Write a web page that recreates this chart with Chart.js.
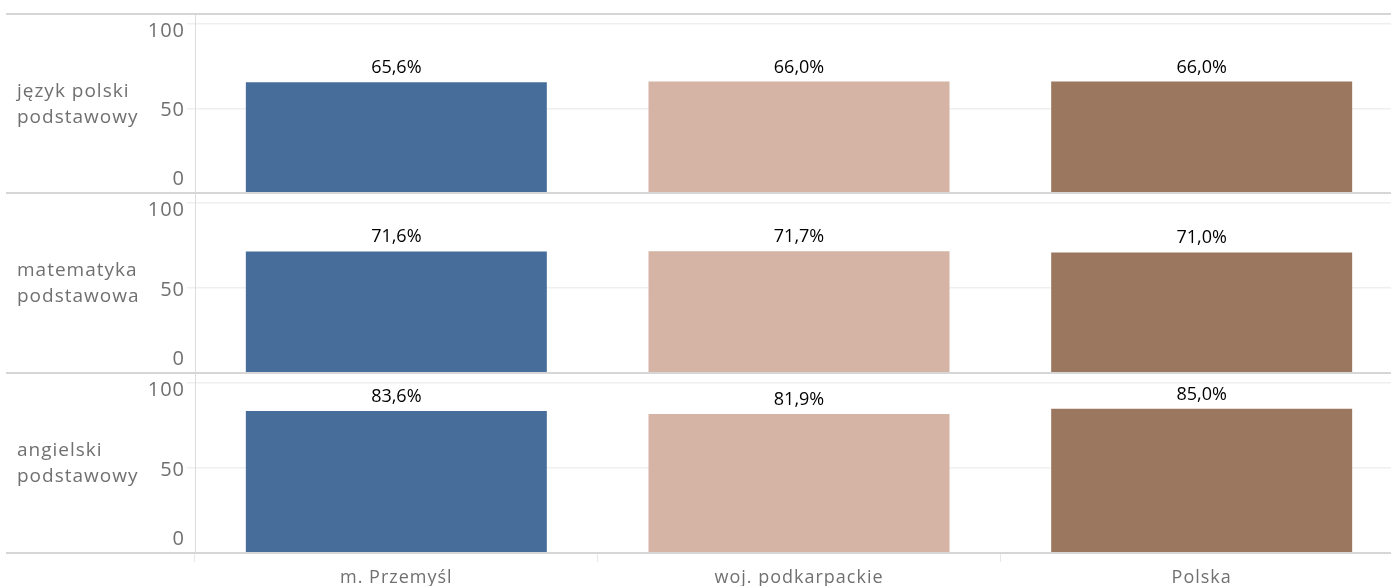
<!DOCTYPE html>
<html><head><meta charset="utf-8">
<script src="https://cdn.jsdelivr.net/npm/chart.js@4"></script>
<style>
html,body{margin:0;padding:0;background:#fff;overflow:hidden;width:1391px;height:586px;}
#wrap{position:relative;width:1403px;height:586px;}
canvas{position:absolute;left:0;}
</style></head><body><div id="wrap"></div>
<script>
// ---- data ----
const categories = ['m. Przemyśl', 'woj. podkarpackie', 'Polska'];
const rowLabels = [['język polski', 'podstawowy'], ['matematyka', 'podstawowa'], ['angielski', 'podstawowy']];
const polskiValues = [65.6, 66.0, 66.0];
const matematykaValues = [71.6, 71.7, 71.0];
const angielskiValues = [83.6, 81.9, 85.0];
const yTickValues = [0, 50, 100];
const seriesValues = [polskiValues, matematykaValues, angielskiValues];

// ---- style ----
const barColors = ['#476e9b', '#d5b3a5', '#9c7760'];
const FONT = '"Open Sans", sans-serif';
const textGray = '#707070';
const panelTops = [14, 193, 373];
const panelBottom = 553;
const fmt = v => v.toFixed(1).replace('.', ',') + '%';

const decor = {
  id: 'decor',
  beforeDraw(chart) { chart.ctx.letterSpacing = '1px'; },
  afterDatasetsDraw(chart, args, opts) {
    const ctx = chart.ctx, ca = chart.chartArea, ys = chart.scales.y;
    ctx.save();
    ctx.strokeStyle = '#d6d6d6'; ctx.lineWidth = 2;
    ctx.beginPath(); ctx.moveTo(6, ca.top); ctx.lineTo(chart.width, ca.top); ctx.stroke();
    if (opts.last) {
      ctx.beginPath(); ctx.moveTo(6, ca.bottom); ctx.lineTo(chart.width, ca.bottom); ctx.stroke();
    }
    ctx.letterSpacing = '1px';
    ctx.font = '20px ' + FONT; ctx.fillStyle = textGray;
    ctx.textAlign = 'right'; ctx.textBaseline = 'middle';
    yTickValues.forEach(v => {
      const off = v === 0 ? -14 : (v === 100 ? 7 : 2);
      ctx.fillText(String(v), 185, ys.getPixelForValue(v) + off);
    });
    ctx.font = '19px ' + FONT;
    ctx.textAlign = 'left';
    const mid = (ca.top + ca.bottom) / 2;
    ctx.fillText(opts.label[0], 17, mid - 12);
    ctx.fillText(opts.label[1], 17, mid + 14);
    ctx.letterSpacing = '0px';
    ctx.fillStyle = '#000'; ctx.font = '18px ' + FONT;
    ctx.textAlign = 'center'; ctx.textBaseline = 'alphabetic';
    const ds = chart.data.datasets[0];
    chart.getDatasetMeta(0).data.forEach((bar, i) => {
      ctx.fillText(fmt(ds.data[i]), bar.x, bar.y - 9);
    });
    ctx.restore();
  }
};

const wrap = document.getElementById('wrap');
seriesValues.forEach((vals, idx) => {
  const last = idx === seriesValues.length - 1;
  const top = panelTops[idx];
  const bottom = last ? panelBottom : panelTops[idx + 1];
  const cv = document.createElement('canvas');
  cv.width = 1403;
  cv.height = (bottom - top) + 2 + (last ? 33 : 0);
  cv.style.top = (top - 2) + 'px';
  cv.style.width = cv.width + 'px';
  cv.style.height = cv.height + 'px';
  wrap.appendChild(cv);
  new Chart(cv, {
    type: 'bar',
    data: {
      labels: categories,
      datasets: [{
        data: vals,
        backgroundColor: barColors,
        categoryPercentage: 0.7475,
        barPercentage: 1,
        borderWidth: 0
      }]
    },
    options: {
      responsive: false,
      animation: false,
      devicePixelRatio: 1,
      layout: { padding: { top: 2, left: 0, right: 0, bottom: 0 } },
      plugins: {
        legend: { display: false },
        tooltip: { enabled: false },
        decor: { last: last, label: rowLabels[idx] }
      },
      scales: {
        x: {
          type: 'category',
          offset: true,
          display: last,
          grid: { display: true, drawOnChartArea: false, tickLength: 9, color: '#e8e8e8', offset: true },
          border: { display: false },
          ticks: { font: { family: FONT, size: 18 }, color: textGray, padding: 5, maxRotation: 0 },
          afterFit(s) { s.height = last ? 33 : 0; }
        },
        y: {
          min: 0, max: 106,
          afterBuildTicks(s) { s.ticks = yTickValues.map(v => ({ value: v })); },
          afterFit(s) { s.width = 195; },
          ticks: { display: false },
          grid: {
            tickLength: 8,
            lineWidth: 1.5,
            color: c => (c.tick && c.tick.value === 0) ? 'rgba(0,0,0,0)' : '#efefef'
          },
          border: { display: true, color: '#dcdcdc', width: 1 }
        }
      }
    },
    plugins: [decor]
  });
});
</script></body></html>
